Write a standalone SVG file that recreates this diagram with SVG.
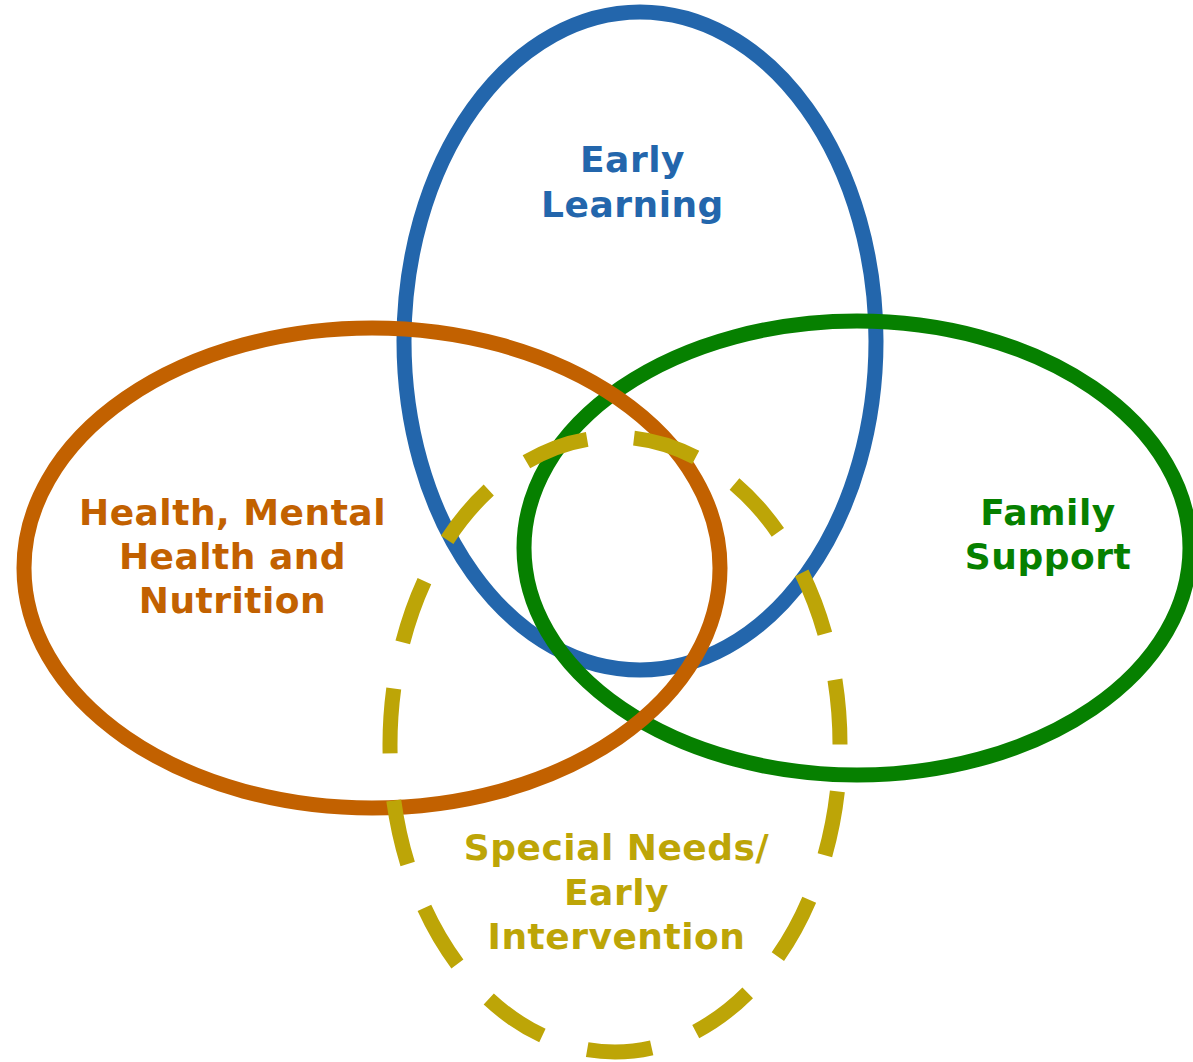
<svg xmlns="http://www.w3.org/2000/svg" width="1193" height="1062" viewBox="0 0 1193 1062">
<style>
.ring{fill:none;stroke-width:15}
.lbl{font-family:"DejaVu Sans",Verdana,sans-serif;font-weight:bold;font-size:36px;letter-spacing:0.5px;text-anchor:middle}
</style>
<rect width="1193" height="1062" fill="#ffffff"/>
<g id="early-learning">
<ellipse class="ring" cx="640" cy="341" rx="236" ry="329" stroke="#2366AC"/>
<text class="lbl" fill="#2366AC"><tspan x="632.5" y="172">Early</tspan><tspan x="632.5" y="217">Learning</tspan></text>
</g>
<g id="family-support">
<ellipse class="ring" cx="857" cy="548" rx="333" ry="227" stroke="#068000"/>
<text class="lbl" fill="#068000"><tspan x="1048" y="525">Family</tspan><tspan x="1048" y="569">Support</tspan></text>
</g>
<g id="health">
<ellipse class="ring" cx="372" cy="568" rx="348" ry="240" stroke="#C26100"/>
<text class="lbl" fill="#C26100"><tspan x="232.5" y="525">Health, Mental</tspan><tspan x="232.5" y="569">Health and</tspan><tspan x="232.5" y="613">Nutrition</tspan></text>
</g>
<g id="special-needs">
<ellipse class="ring" cx="615" cy="744.5" rx="225" ry="307.5" stroke="#BDA507" pathLength="1680" stroke-dasharray="65 47" stroke-dashoffset="65"/>
<text class="lbl" fill="#BDA507"><tspan x="616.5" y="860">Special Needs/</tspan><tspan x="616.5" y="905">Early</tspan><tspan x="616.5" y="949">Intervention</tspan></text>
</g>
<g id="connectors"></g>
</svg>
